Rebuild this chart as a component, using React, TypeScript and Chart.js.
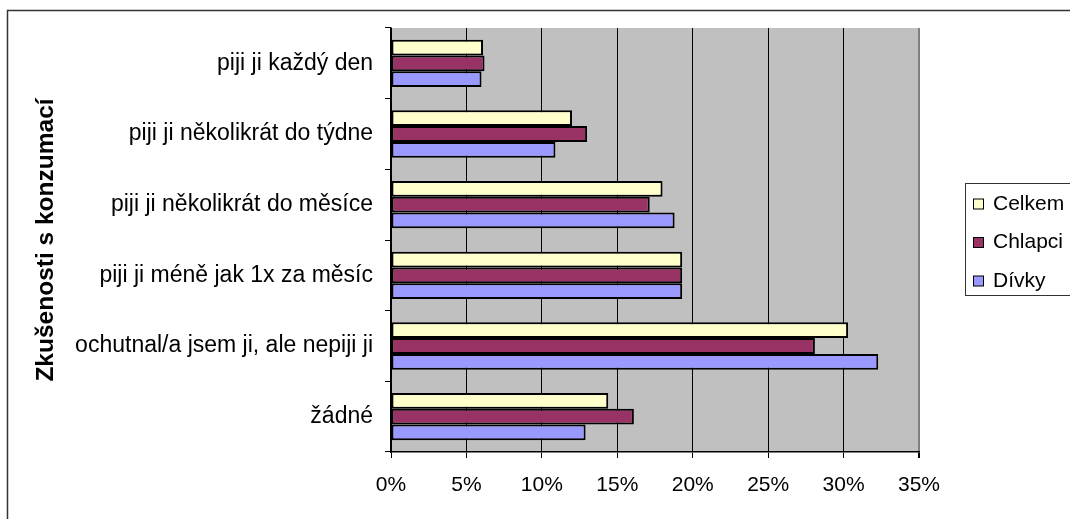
import { useEffect, useRef } from "react";
import { Chart, registerables } from "chart.js";

Chart.register(...registerables);

const categories = [
  "piji ji každý den",
  "piji ji několikrát do týdne",
  "piji ji několikrát do měsíce",
  "piji ji méně jak 1x za měsíc",
  "ochutnal/a jsem ji, ale nepiji ji",
  "žádné",
];
const seriesNames = ["Celkem", "Chlapci", "Dívky"];
const celkem = [6.1, 12.0, 18.0, 19.3, 30.3, 14.4];
const chlapci = [6.2, 13.0, 17.15, 19.3, 28.1, 16.1];
const divky = [6.0, 10.9, 18.8, 19.3, 32.3, 12.9];
const seriesColors = ["#FFFFCC", "#993366", "#9999FF"];
const xMin = 0;
const xMax = 35;
const xStep = 5;
const axisTitle = "Zkušenosti s konzumací";

const FONT = "'Liberation Sans', Arial, sans-serif";

const backgroundPlugin = {
  id: "plotBackground",
  beforeDraw(chart: any) {
    const { ctx, chartArea } = chart;
    ctx.save();
    ctx.fillStyle = "#ffffff";
    ctx.fillRect(0, 0, chart.width, chart.height);
    ctx.strokeStyle = "#333333";
    ctx.lineWidth = 1.5;
    ctx.beginPath();
    ctx.moveTo(7.5, chart.height + 5);
    ctx.lineTo(7.5, 10.5);
    ctx.lineTo(chart.width + 5, 10.5);
    ctx.stroke();
    ctx.fillStyle = "#C0C0C0";
    ctx.fillRect(chartArea.left, chartArea.top, chartArea.right - chartArea.left, chartArea.bottom - chartArea.top);
    ctx.restore();
  },
};

const legendPlugin = {
  id: "boxLegend",
  afterDraw(chart: any) {
    const { ctx } = chart;
    const x = 965.5;
    const y = 183.5;
    const w = 130;
    const h = 112;
    ctx.save();
    ctx.strokeStyle = "#333333";
    ctx.lineWidth = 1;
    ctx.strokeRect(x, y, w, h);
    ctx.font = `21px ${FONT}`;
    ctx.textBaseline = "middle";
    ctx.textAlign = "left";
    chart.data.datasets.forEach((ds: any, i: number) => {
      const cy = 204 + i * 38.5;
      ctx.fillStyle = ds.backgroundColor;
      ctx.fillRect(973.5, cy - 5, 10, 10);
      ctx.strokeStyle = "#000000";
      ctx.lineWidth = 1;
      ctx.strokeRect(973.5, cy - 5, 10, 10);
      ctx.fillStyle = "#000000";
      ctx.fillText(ds.label, 993, cy);
    });
    ctx.restore();
  },
};

export default function App() {
  const ref = useRef<HTMLCanvasElement | null>(null);

  useEffect(() => {
    if (!ref.current) return;
    const values = [celkem, chlapci, divky];
    const chart = new Chart(ref.current, {
      type: "bar",
      data: {
        labels: categories,
        datasets: seriesNames.map((name, i) => ({
          label: name,
          data: values[i],
          backgroundColor: seriesColors[i],
          borderColor: "#000000",
          borderWidth: 2,
          borderSkipped: false,
          barPercentage: 1,
          categoryPercentage: 0.67,
        })),
      },
      options: {
        indexAxis: "y",
        responsive: false,
        animation: false,
        events: [],
        layout: { padding: { top: 28, left: 0, right: 151, bottom: 0 } },
        plugins: {
          legend: { display: false },
          tooltip: { enabled: false },
        },
        scales: {
          x: {
            type: "linear",
            position: "bottom",
            min: xMin,
            max: xMax,
            ticks: {
              stepSize: xStep,
              color: "#000000",
              font: { family: FONT, size: 21 },
              padding: 15,
              callback: (v: any) => `${v}%`,
            },
            grid: {
              color: (c: any) => (c.tick && c.tick.value === xMax ? "#808080" : "#000000"),
              lineWidth: (c: any) => (c.tick && c.tick.value === xMax ? 2 : 1),
              tickColor: "#000000",
              tickLength: 6,
              drawTicks: true,
            },
            border: { color: "#000000", width: 1.5 },
            afterFit: (s: any) => {
              s.height = 67;
            },
          },
          y: {
            type: "category",
            position: "left",
            ticks: {
              color: "#000000",
              font: { family: FONT, size: 23 },
              padding: 12,
            },
            grid: {
              offset: true,
              drawOnChartArea: false,
              drawTicks: true,
              tickLength: 6,
              color: "#000000",
              tickColor: "#000000",
            },
            border: { color: "#000000", width: 1.5 },
            title: {
              display: true,
              text: axisTitle,
              color: "#000000",
              font: { family: FONT, size: 24.5, weight: "bold" },
              padding: { top: 32, bottom: 0 },
            },
            afterFit: (s: any) => {
              s.width = 391;
            },
          },
        },
      },
      plugins: [backgroundPlugin, legendPlugin],
    });
    return () => chart.destroy();
  }, []);

  return (
    <div style={{ position: "absolute", left: 0, top: 0, width: 1070, height: 519, background: "#fff" }}>
      <canvas ref={ref} width={1070} height={519} style={{ display: "block", width: 1070, height: 519 }} />
    </div>
  );
}
